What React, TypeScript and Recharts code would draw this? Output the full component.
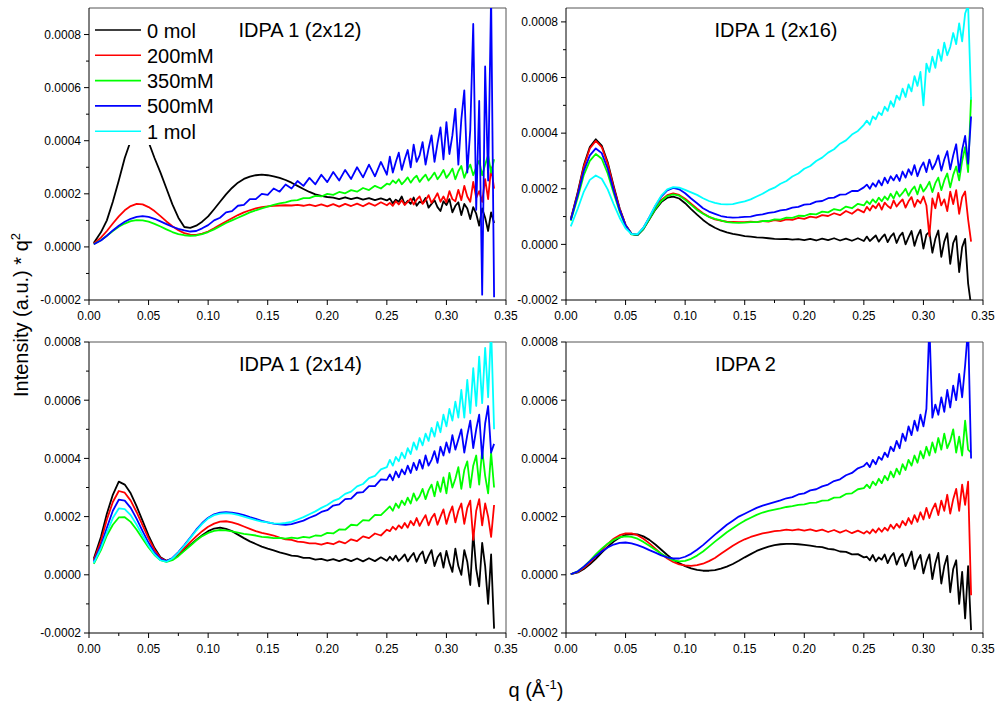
import React from 'react';
import { LineChart, Line, XAxis, YAxis, ReferenceLine, Legend } from 'recharts';

const FONT = '"Liberation Sans", Arial, Helvetica, sans-serif';

// q (1/Å): 0.005 steps up to 0.25, then 0.0025 steps where the curves get noisy
const qGrid = [
  0.004, 0.01, 0.015, 0.02, 0.025, 0.03, 0.035, 0.04, 0.045, 0.05,
  0.055, 0.06, 0.065, 0.07, 0.075, 0.08, 0.085, 0.09, 0.095, 0.1,
  0.105, 0.11, 0.115, 0.12, 0.125, 0.13, 0.135, 0.14, 0.145, 0.15,
  0.155, 0.16, 0.165, 0.17, 0.175, 0.18, 0.185, 0.19, 0.195, 0.2,
  0.205, 0.21, 0.215, 0.22, 0.225, 0.23, 0.235, 0.24, 0.245, 0.25,
  0.2525, 0.255, 0.2575, 0.26, 0.2625, 0.265,
  0.2675, 0.27, 0.2725, 0.275, 0.2775, 0.28,
  0.2825, 0.285, 0.2875, 0.29, 0.2925, 0.295,
  0.2975, 0.3, 0.3025, 0.305, 0.3075, 0.31,
  0.3125, 0.315, 0.3175, 0.32, 0.3225, 0.325,
  0.3275, 0.33, 0.3325, 0.335, 0.3375, 0.34,
];

const seriesKeys = ['c0', 'c200', 'c350', 'c500', 'c1000'];
const seriesNames = ['0 mol', '200mM', '350mM', '500mM', '1 mol'];
const seriesColors = ['#000000', '#ff0000', '#00ff00', '#0000ff', '#00ffff'];

const panelTitles = ['IDPA 1 (2x12)', 'IDPA 1 (2x16)', 'IDPA 1 (2x14)', 'IDPA 2'];

const xTicks = [0, 0.025, 0.05, 0.075, 0.1, 0.125, 0.15, 0.175, 0.2, 0.225, 0.25, 0.275, 0.3, 0.325, 0.35];
const yTicks = [-0.0002, -0.0001, 0, 0.0001, 0.0002, 0.0003, 0.0004, 0.0005, 0.0006, 0.0007, 0.0008];

// all intensities below are in units of 1e-4

// IDPA 1 (2x12)
const a0 = [
  0.15, 0.55, 1.0, 1.7, 2.5, 3.35, 4.0, 4.4, 4.4, 3.95,
  3.35, 2.8, 2.2, 1.6, 1.1, 0.75, 0.72, 0.8, 0.95, 1.15,
  1.42, 1.7, 1.98, 2.22, 2.42, 2.56, 2.65, 2.7, 2.72, 2.7,
  2.66, 2.6, 2.52, 2.42, 2.3, 2.18, 2.07, 1.98, 1.92, 1.88,
  1.86, 1.8, 1.87, 1.8, 1.86, 1.78, 1.84, 1.76, 1.83, 1.75,
  1.82, 1.64, 1.78, 1.7, 1.9, 1.6,
  1.74, 1.62, 1.86, 1.55, 1.7, 1.66,
  1.84, 1.48, 1.62, 1.76, 1.5, 1.35,
  1.72, 1.58, 1.8, 1.3, 1.55, 1.68,
  1.2, 1.62, 1.45, 1.05, 1.5, 1.25,
  0.8, 1.45, 1.1, 0.6, 1.3, 0.9,
];
const a200 = [
  0.12, 0.35, 0.6, 0.88, 1.15, 1.38, 1.54, 1.62, 1.6, 1.5,
  1.35, 1.16, 0.96, 0.78, 0.63, 0.52, 0.46, 0.45, 0.5, 0.58,
  0.7, 0.83, 0.96, 1.08, 1.2, 1.3, 1.38, 1.45, 1.5, 1.53,
  1.55, 1.56, 1.57, 1.56, 1.58, 1.55, 1.59, 1.54, 1.6, 1.53,
  1.61, 1.52, 1.62, 1.54, 1.63, 1.53, 1.65, 1.55, 1.68, 1.57,
  1.66, 1.55, 1.72, 1.6, 1.76, 1.58,
  1.7, 1.82, 1.6, 1.78, 1.9, 1.62,
  1.75, 1.95, 1.66, 1.82, 2.02, 1.7,
  1.9, 1.68, 2.1, 1.8, 1.72, 2.15,
  1.76, 2.3, 1.9, 1.7, 2.45, 1.85,
  2.1, 1.7, 2.55, 1.8, 3.0, 2.2,
];
const a350 = [
  0.1, 0.25, 0.42, 0.6, 0.76, 0.88, 0.97, 1.01, 1.0, 0.95,
  0.87, 0.77, 0.66, 0.56, 0.48, 0.44, 0.42, 0.43, 0.48, 0.56,
  0.66, 0.78, 0.9, 1.0, 1.1, 1.2, 1.3, 1.38, 1.45, 1.52,
  1.58, 1.64, 1.68, 1.74, 1.76, 1.84, 1.84, 1.92, 1.9, 2.0,
  1.96, 2.07, 2.02, 2.14, 2.08, 2.22, 2.14, 2.3, 2.2, 2.38,
  2.35, 2.5, 2.4, 2.55, 2.36, 2.48,
  2.62, 2.42, 2.58, 2.68, 2.45, 2.6,
  2.72, 2.5, 2.64, 2.8, 2.55, 2.7,
  2.9, 2.6, 2.75, 2.95, 2.55, 2.85,
  3.05, 2.6, 2.9, 3.1, 2.7, 3.0,
  3.25, 2.7, 3.1, 3.45, 2.8, 3.3,
];
const a500 = [
  0.1, 0.24, 0.42, 0.62, 0.8, 0.95, 1.06, 1.13, 1.16, 1.13,
  1.06, 0.96, 0.86, 0.76, 0.68, 0.62, 0.58, 0.6, 0.7, 0.82,
  1.0, 1.1, 1.3, 1.35, 1.55, 1.58, 1.8, 1.8, 2.0, 1.96,
  2.2, 2.08, 2.35, 2.2, 2.48, 2.3, 2.6, 2.36, 2.72, 2.44,
  2.82, 2.5, 2.9, 2.56, 3.0, 2.62, 3.1, 2.66, 3.2, 2.72,
  3.4, 2.8, 3.2, 3.55, 2.9, 3.3,
  3.65, 3.0, 3.85, 3.2, 3.45, 3.95,
  3.1, 3.7, 4.2, 3.2, 3.9, 4.5,
  3.3, 4.7, 3.5, 4.2, 5.2, 3.1,
  4.8, 5.9, 2.8, 4.4, 8.4, 1.4,
  5.5, -1.8, 6.8, 2.5, 9.5, -1.9,
];

// IDPA 1 (2x16)
const b0 = [
  0.9, 1.9, 2.85, 3.5, 3.78, 3.55, 2.95, 2.1, 1.3, 0.7,
  0.38, 0.33, 0.55, 0.9, 1.25, 1.52, 1.68, 1.72, 1.65, 1.48,
  1.27, 1.07, 0.88, 0.72, 0.6, 0.5, 0.43, 0.38, 0.34, 0.3,
  0.28, 0.25, 0.24, 0.22, 0.2, 0.19, 0.2, 0.17, 0.19, 0.15,
  0.2, 0.14, 0.21, 0.15, 0.22, 0.14, 0.21, 0.13, 0.22, 0.12,
  0.28, 0.12, 0.22, 0.32, 0.1, 0.24,
  0.36, 0.08, 0.28, 0.4, 0.05, 0.3,
  0.42, 0.0, 0.25, 0.48, -0.05, 0.3,
  0.52, -0.15, 0.35, 0.45, -0.3, 0.2,
  0.5, -0.45, 0.1, 0.4, -0.7, 0.05,
  0.3, -1.0, -0.1, 0.2, -1.4, -2.2,
];
const b200 = [
  0.9, 1.85, 2.8, 3.45, 3.72, 3.5, 2.9, 2.05, 1.28, 0.7,
  0.38, 0.34, 0.58, 0.95, 1.32, 1.6, 1.77, 1.83, 1.78, 1.64,
  1.46, 1.28, 1.12, 0.99, 0.9, 0.85, 0.82, 0.81, 0.8, 0.8,
  0.82, 0.8, 0.84, 0.82, 0.87, 0.84, 0.9, 0.88, 0.95, 0.92,
  1.0, 0.96, 1.05, 1.02, 1.12, 1.05, 1.2, 1.1, 1.26, 1.15,
  1.35, 1.22, 1.4, 1.3, 1.48, 1.25,
  1.5, 1.38, 1.3, 1.58, 1.36, 1.5,
  1.62, 1.32, 1.55, 1.7, 1.35, 1.6,
  1.48, 1.72, 1.4, 0.3, 1.65, 1.3,
  1.85, 1.4, 1.62, 1.2, 1.9, 1.45,
  1.95, 1.1, 1.7, 1.9, 0.9, 0.1,
];
const b350 = [
  0.85, 1.7, 2.5, 3.0, 3.25, 3.08, 2.55, 1.85, 1.18, 0.66,
  0.36, 0.33, 0.56, 0.92, 1.28, 1.56, 1.74, 1.8, 1.75, 1.6,
  1.42, 1.24, 1.1, 0.99, 0.92, 0.86, 0.8, 0.78, 0.77, 0.78,
  0.8, 0.8, 0.84, 0.84, 0.9, 0.89, 0.96, 0.95, 1.03, 1.02,
  1.1, 1.08, 1.18, 1.15, 1.27, 1.22, 1.36, 1.3, 1.46, 1.4,
  1.55, 1.45, 1.62, 1.5, 1.68, 1.55,
  1.72, 1.6, 1.82, 1.65, 1.9, 1.72,
  1.85, 2.0, 1.75, 1.95, 2.08, 1.8,
  2.15, 1.9, 2.05, 2.25, 1.88, 2.2,
  2.4, 1.95, 2.3, 2.55, 2.05, 2.5,
  2.8, 2.3, 3.0, 3.5, 2.6, 5.3,
];
const b500 = [
  0.88, 1.8, 2.65, 3.2, 3.45, 3.28, 2.72, 1.95, 1.24, 0.68,
  0.37, 0.35, 0.6, 0.98, 1.38, 1.72, 1.94, 2.03, 1.98, 1.84,
  1.65, 1.48, 1.3, 1.18, 1.1, 1.02, 0.98, 0.96, 0.97, 0.99,
  1.0, 1.05, 1.08, 1.13, 1.16, 1.22, 1.25, 1.32, 1.35, 1.43,
  1.45, 1.54, 1.56, 1.66, 1.68, 1.79, 1.8, 1.92, 1.92, 2.05,
  2.15, 2.0, 2.2, 2.08, 2.3, 2.12,
  2.4, 2.2, 2.45, 2.3, 2.5, 2.28,
  2.62, 2.4, 2.7, 2.5, 2.85, 2.45,
  2.75, 2.95, 2.6, 3.05, 2.7, 2.9,
  3.2, 2.65, 3.05, 3.35, 2.7, 3.2,
  3.6, 2.6, 3.4, 3.9, 2.9, 4.6,
];
const b1000 = [
  0.65, 1.3, 1.9, 2.32, 2.48, 2.36, 1.98, 1.45, 0.96, 0.58,
  0.37, 0.37, 0.6, 0.98, 1.4, 1.75, 1.98, 2.06, 2.04, 1.96,
  1.87, 1.78, 1.66, 1.56, 1.49, 1.45, 1.44, 1.45, 1.5, 1.55,
  1.62, 1.72, 1.82, 1.95, 2.04, 2.18, 2.28, 2.44, 2.55, 2.72,
  2.82, 3.0, 3.12, 3.3, 3.42, 3.62, 3.74, 3.95, 4.08, 4.3,
  4.45, 4.3, 4.6, 4.5, 4.75, 4.65,
  4.95, 4.8, 5.15, 4.95, 5.35, 5.2,
  5.6, 5.3, 5.75, 5.5, 6.05, 5.7,
  6.2, 5.0, 6.5, 6.2, 6.75, 6.35,
  7.0, 6.6, 7.25, 6.8, 7.1, 7.6,
  7.2, 7.95, 7.3, 8.3, 8.6, 5.2,
];

// IDPA 1 (2x14)
const c0 = [
  0.55, 1.3, 2.1, 2.75, 3.2, 3.1, 2.8, 2.35, 1.85, 1.35,
  0.92, 0.6, 0.48, 0.55, 0.68, 0.85, 1.03, 1.2, 1.36, 1.5,
  1.59, 1.62, 1.58, 1.5, 1.38, 1.26, 1.15, 1.06, 0.97, 0.9,
  0.84, 0.77, 0.72, 0.66, 0.64, 0.58, 0.58, 0.52, 0.55, 0.49,
  0.54, 0.47, 0.55, 0.47, 0.56, 0.46, 0.57, 0.47, 0.6, 0.48,
  0.62, 0.5, 0.66, 0.48, 0.58, 0.7,
  0.46, 0.62, 0.75, 0.45, 0.68, 0.8,
  0.4, 0.65, 0.85, 0.3, 0.6, 0.75,
  0.25, 0.82, 0.4, 0.1, 0.9, 0.3,
  0.0, 0.85, 0.45, -0.35, 1.45, 0.2,
  -0.4, 1.1, 0.3, -1.0, 0.7, -1.85,
];
const c200 = [
  0.5, 1.15, 1.9, 2.5, 2.88, 2.82, 2.55, 2.15, 1.7, 1.25,
  0.86, 0.58, 0.47, 0.56, 0.72, 0.92, 1.12, 1.32, 1.5, 1.65,
  1.76, 1.83, 1.84, 1.8, 1.74, 1.66, 1.58, 1.5, 1.44, 1.4,
  1.35, 1.28, 1.22, 1.2, 1.14, 1.12, 1.08, 1.08, 1.04, 1.1,
  1.05, 1.15, 1.08, 1.22, 1.16, 1.32, 1.26, 1.42, 1.35, 1.55,
  1.5, 1.65, 1.55, 1.7, 1.6, 1.78,
  1.62, 1.85, 1.7, 1.95, 1.68, 1.88,
  2.05, 1.7, 1.95, 2.1, 1.72, 2.0,
  2.25, 1.75, 2.1, 2.35, 1.8, 2.2,
  2.45, 1.75, 2.3, 2.55, 1.2, 2.2,
  2.6, 1.7, 2.45, 2.0, 1.3, 2.4,
];
const c350 = [
  0.38, 0.85, 1.35, 1.72, 1.97, 1.98, 1.82, 1.55, 1.24, 0.94,
  0.68, 0.5, 0.44, 0.5, 0.64, 0.82, 1.0, 1.18, 1.33, 1.44,
  1.51, 1.54, 1.53, 1.49, 1.45, 1.41, 1.38, 1.35, 1.3, 1.29,
  1.26, 1.27, 1.24, 1.28, 1.25, 1.3, 1.28, 1.35, 1.34, 1.44,
  1.42, 1.56, 1.55, 1.72, 1.7, 1.88, 1.86, 2.06, 2.05, 2.25,
  2.35, 2.2, 2.45, 2.3, 2.55, 2.4,
  2.65, 2.45, 2.8, 2.55, 2.7, 2.95,
  2.6, 2.9, 3.1, 2.7, 3.2, 2.85,
  3.35, 2.8, 3.5, 3.0, 3.3, 3.7,
  2.95, 3.6, 3.9, 3.0, 3.75, 4.1,
  3.1, 4.3, 3.4, 2.8, 4.2, 3.0,
];
const c500 = [
  0.45, 1.0, 1.62, 2.2, 2.58, 2.55, 2.3, 1.92, 1.5, 1.1,
  0.76, 0.54, 0.47, 0.58, 0.78, 1.02, 1.28, 1.55, 1.78, 1.96,
  2.08, 2.14, 2.15, 2.14, 2.1, 2.05, 1.98, 1.92, 1.85, 1.8,
  1.76, 1.73, 1.72, 1.74, 1.8, 1.86, 1.96, 2.04, 2.16, 2.22,
  2.38, 2.42, 2.6, 2.62, 2.82, 2.84, 3.05, 3.05, 3.28, 3.26,
  3.45, 3.25, 3.55, 3.35, 3.62, 3.45,
  3.75, 3.5, 3.85, 3.6, 3.95, 3.65,
  4.1, 3.75, 3.95, 4.25, 3.85, 4.4,
  4.1, 4.55, 4.2, 4.8, 4.3, 4.65,
  5.0, 4.2, 4.8, 5.3, 4.35, 5.0,
  5.5, 4.0, 5.2, 5.8, 4.2, 4.5,
];
const c1000 = [
  0.4, 0.92, 1.45, 1.95, 2.28, 2.26, 2.05, 1.72, 1.35, 1.0,
  0.7, 0.5, 0.45, 0.56, 0.76, 1.0, 1.26, 1.52, 1.75, 1.94,
  2.05, 2.1, 2.12, 2.1, 2.06, 2.0, 1.94, 1.88, 1.83, 1.8,
  1.77, 1.76, 1.78, 1.82, 1.9, 1.98, 2.08, 2.18, 2.3, 2.4,
  2.54, 2.62, 2.78, 2.86, 3.04, 3.12, 3.32, 3.4, 3.62, 3.7,
  3.95, 3.75, 4.05, 3.9, 4.2, 4.0,
  4.35, 4.15, 4.55, 4.3, 4.7, 4.45,
  4.85, 4.6, 5.05, 4.75, 5.25, 4.9,
  5.5, 5.1, 5.7, 5.3, 5.95, 5.4,
  6.35, 5.4, 6.7, 5.55, 7.1, 5.8,
  7.5, 5.9, 7.8, 6.1, 8.5, 5.0,
];

// IDPA 2
const d0 = [
  0.02, 0.08, 0.2, 0.36, 0.55, 0.76, 0.96, 1.14, 1.28, 1.37,
  1.4, 1.39, 1.32, 1.2, 1.04, 0.86, 0.68, 0.52, 0.4, 0.3,
  0.22, 0.17, 0.14, 0.14, 0.16, 0.21, 0.28, 0.37, 0.48, 0.6,
  0.71, 0.82, 0.9, 0.97, 1.02, 1.05, 1.06, 1.06, 1.05, 1.03,
  1.0, 0.97, 0.95, 0.89, 0.87, 0.8, 0.79, 0.7, 0.71, 0.6,
  0.62, 0.5, 0.68, 0.46, 0.6, 0.52,
  0.7, 0.4, 0.62, 0.75, 0.35, 0.6,
  0.72, 0.3, 0.55, 0.8, 0.2, 0.5,
  0.68, 0.05, 0.45, 0.7, -0.15, 0.4,
  0.75, -0.3, 0.3, 0.65, -0.6, 0.2,
  0.5, -1.0, 0.1, -1.5, 0.3, -1.9,
];
const d200 = [
  0.02, 0.1, 0.24, 0.42, 0.63, 0.85, 1.06, 1.24, 1.36, 1.42,
  1.42, 1.36, 1.24, 1.08, 0.9, 0.72, 0.56, 0.44, 0.36, 0.32,
  0.31, 0.33, 0.38, 0.47, 0.58, 0.72, 0.86, 1.0, 1.12, 1.22,
  1.3, 1.36, 1.42, 1.46, 1.5, 1.52, 1.55, 1.53, 1.56, 1.52,
  1.56, 1.5, 1.55, 1.47, 1.54, 1.45, 1.53, 1.43, 1.52, 1.42,
  1.5, 1.42, 1.56, 1.45, 1.6, 1.48,
  1.62, 1.52, 1.72, 1.58, 1.75, 1.62,
  1.85, 1.7, 1.95, 1.75, 2.05, 1.82,
  2.15, 1.9, 2.3, 1.95, 2.25, 2.45,
  2.05, 2.55, 2.2, 2.75, 2.1, 2.6,
  2.95, 2.2, 3.1, 2.4, 3.2, -0.7,
];
const d350 = [
  0.02, 0.12, 0.28, 0.48, 0.7, 0.9, 1.07, 1.2, 1.29, 1.32,
  1.3, 1.24, 1.13, 1.0, 0.86, 0.72, 0.6, 0.5, 0.46, 0.48,
  0.55, 0.66, 0.8, 0.97, 1.14, 1.3, 1.46, 1.6, 1.74, 1.86,
  1.96, 2.06, 2.14, 2.2, 2.24, 2.28, 2.33, 2.36, 2.4, 2.42,
  2.47, 2.48, 2.55, 2.56, 2.65, 2.66, 2.78, 2.8, 2.94, 2.98,
  3.1, 2.98, 3.2, 3.08, 3.3, 3.15,
  3.4, 3.25, 3.55, 3.35, 3.65, 3.45,
  3.8, 3.6, 3.95, 3.75, 4.1, 3.85,
  4.25, 4.0, 4.4, 4.1, 4.55, 4.2,
  4.7, 4.3, 4.85, 4.35, 4.6, 5.0,
  4.2, 4.75, 4.1, 5.3, 4.3, 4.2,
];
const d500 = [
  0.02, 0.12, 0.28, 0.46, 0.64, 0.8, 0.94, 1.04, 1.1, 1.11,
  1.08, 1.02, 0.94, 0.85, 0.76, 0.67, 0.6, 0.56, 0.56, 0.62,
  0.72, 0.86, 1.02, 1.2, 1.38, 1.55, 1.72, 1.86, 2.0, 2.1,
  2.2, 2.3, 2.38, 2.44, 2.5, 2.56, 2.63, 2.67, 2.76, 2.8,
  2.9, 2.94, 3.04, 3.1, 3.22, 3.28, 3.42, 3.5, 3.66, 3.74,
  3.85, 3.7, 3.95, 3.8, 4.05, 3.95,
  4.2, 4.05, 4.4, 4.25, 4.6, 4.35,
  4.85, 4.6, 5.1, 4.8, 5.3, 4.95,
  5.5, 5.1, 5.7, 8.6, 5.4, 5.85,
  5.5, 6.1, 5.6, 6.35, 5.75, 6.5,
  6.0, 6.9, 6.1, 7.2, 8.5, 4.0,
];

const toRows = (cols: (number[] | null)[]) =>
  qGrid.map((q, i) => {
    const row: Record<string, number> = { q };
    cols.forEach((c, k) => {
      if (c) row[seriesKeys[k]] = c[i] * 1e-4;
    });
    return row;
  });

const ML = 70;
const MT = 10;
const MR = 12;
const MB = 30;
const YW = 60;
const XH = 25;

type PanelProps = {
  left: number;
  top: number;
  width: number;
  height: number;
  yMax: number;
  rows: Record<string, number>[];
  keys: number[];
  legend?: boolean;
};

const LegendBox = () => (
  <svg width={128} height={136} style={{ display: 'block' }}>
    <rect x={0} y={0} width={128} height={136} fill="#fff" />
    {seriesNames.map((n, i) => {
      const y = 21 + i * 25.3;
      return (
        <g key={n}>
          <line x1={5} x2={51} y1={y} y2={y} stroke={seriesColors[i]} strokeWidth={1.6} />
          <text x={57} y={y + 7.5} fontSize={20} fontFamily={FONT} fill="#000">
            {n}
          </text>
        </g>
      );
    })}
  </svg>
);

const Panel = ({ left, top, width, height, yMax, rows, keys, legend }: PanelProps) => {
  const axisY = MT + height;

  const yTick = (p: any) => {
    const v = p.payload.value as number;
    const major = Math.round(v * 1e4) % 2 === 0;
    return (
      <g>
        <line x1={ML - (major ? 5 : 3)} x2={ML} y1={p.y} y2={p.y} stroke="#000" />
        {major && (
          <text x={ML - 8} y={p.y + 4.3} textAnchor="end" fontSize={12} fontFamily={FONT} fill="#000">
            {v.toFixed(4)}
          </text>
        )}
      </g>
    );
  };

  const xTick = (p: any) => {
    const v = p.payload.value as number;
    const major = Math.round(v * 1000) % 50 === 0;
    return (
      <g>
        <line x1={p.x} x2={p.x} y1={axisY} y2={axisY + (major ? 5 : 3)} stroke="#000" />
        {major && (
          <text x={p.x} y={axisY + 20} textAnchor="middle" fontSize={12} fontFamily={FONT} fill="#000">
            {v.toFixed(2)}
          </text>
        )}
      </g>
    );
  };

  return (
    <div style={{ position: 'absolute', left: left - ML, top: top - MT }}>
      <LineChart
        width={width + ML + MR}
        height={height + MT + MB}
        data={rows}
        margin={{ top: MT, right: MR, bottom: MB - XH, left: ML - YW }}
      >
        <XAxis
          type="number"
          dataKey="q"
          domain={[0, 0.35]}
          ticks={xTicks}
          interval={0}
          allowDataOverflow
          tickLine={false}
          axisLine={{ stroke: '#000' }}
          tick={xTick}
          height={XH}
        />
        <YAxis
          type="number"
          domain={[-0.0002, yMax]}
          ticks={yTicks}
          interval={0}
          allowDataOverflow
          tickLine={false}
          axisLine={{ stroke: '#000' }}
          tick={yTick}
          width={YW}
        />
        <ReferenceLine y={yMax} stroke="#555" />
        <ReferenceLine x={0.35} stroke="#555" />
        {keys.map((k) => (
          <Line
            key={seriesKeys[k]}
            type="linear"
            dataKey={seriesKeys[k]}
            name={seriesNames[k]}
            stroke={seriesColors[k]}
            strokeWidth={1.8}
            strokeLinejoin="round"
            dot={false}
            activeDot={false}
            isAnimationActive={false}
          />
        ))}
        {legend && (
          <Legend
            layout="vertical"
            align="center"
            verticalAlign="middle"
            wrapperStyle={{ left: ML + 1, top: MT + 1, width: 128, height: 136 }}
            content={() => <LegendBox />}
          />
        )}
      </LineChart>
    </div>
  );
};

const rowsA = toRows([a0, a200, a350, a500, null]);
const rowsB = toRows([b0, b200, b350, b500, b1000]);
const rowsC = toRows([c0, c200, c350, c500, c1000]);
const rowsD = toRows([d0, d200, d350, d500, null]);

export default function App() {
  return (
    <div
      style={{
        position: 'absolute',
        left: 0,
        top: 0,
        width: 995,
        height: 702,
        overflow: 'hidden',
        background: '#fff',
      }}
    >
      <Panel left={89} top={8} width={417} height={292} yMax={0.0009} rows={rowsA} keys={[0, 1, 2, 3]} legend />
      <Panel left={566} top={8} width={417} height={292} yMax={0.00085} rows={rowsB} keys={[0, 1, 2, 3, 4]} />
      <Panel left={89} top={342} width={417} height={291} yMax={0.0008} rows={rowsC} keys={[0, 1, 2, 3, 4]} />
      <Panel left={566} top={342} width={417} height={291} yMax={0.0008} rows={rowsD} keys={[0, 1, 2, 3]} />
      <svg
        width={995}
        height={702}
        style={{ position: 'absolute', left: 0, top: 0, pointerEvents: 'none' }}
      >
        <g fontFamily={FONT} fontSize={20} fill="#000">
          <text x={300} y={37} textAnchor="middle">{panelTitles[0]}</text>
          <text x={776} y={37} textAnchor="middle">{panelTitles[1]}</text>
          <text x={300.5} y={371} textAnchor="middle">{panelTitles[2]}</text>
          <text x={745.5} y={371} textAnchor="middle">{panelTitles[3]}</text>
          <text transform="translate(28,315) rotate(-90)" textAnchor="middle">
            Intensity (a.u.) * q<tspan dy={-8} fontSize={13}>2</tspan>
          </text>
          <text x={536} y={697} textAnchor="middle">
            q (Å<tspan dy={-8} fontSize={13}>-1</tspan>
            <tspan dy={8}>)</tspan>
          </text>
        </g>
      </svg>
    </div>
  );
}
